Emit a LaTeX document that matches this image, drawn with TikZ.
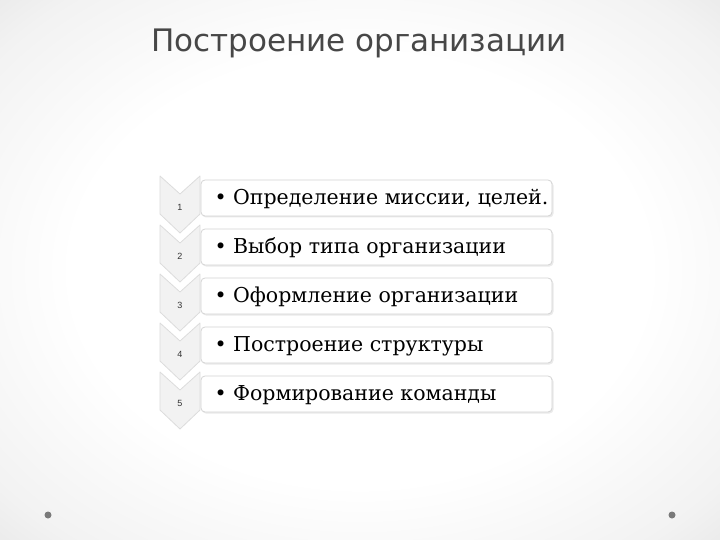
\documentclass[tikz,border=0pt]{standalone}
\usepackage{fontspec}
\setmainfont{DejaVu Serif}
\newfontfamily\titlefont{DejaVu Sans}
\newfontfamily\numfont{Liberation Sans}
\definecolor{chevfill}{HTML}{F2F2F2}
\definecolor{chevline}{HTML}{DCDCDC}
\definecolor{boxline}{HTML}{D4D4D4}
\definecolor{dotgray}{HTML}{7A7A7A}
\pgfdeclareradialshading{bgshade}{\pgfpoint{0bp}{0bp}}{%
  color(0bp)=(white); color(20bp)=(white); color(32bp)=(black!5); color(42bp)=(black!13); color(50bp)=(black!24)}
\tikzset{
  chev/.style={fill=chevfill, draw=chevline, line width=0.8pt, line join=round},
  stepboxstyle/.style={draw=boxline, fill=white, rounded corners=4pt, line width=0.8pt},
  boxshadow/.style={fill=black!8, rounded corners=4pt},
  itemtext/.style={anchor=west, font=\fontsize{20.5}{24}\selectfont, text=black},
  numtext/.style={font=\numfont\fontsize{9}{10}\selectfont, text=black!80},
  dotstyle/.style={fill=dotgray, draw=none}
}
\begin{document}
\begin{tikzpicture}[x=1pt,y=-1pt]
\useasboundingbox (0,0) rectangle (720,540);
\begin{scope}
\clip (0,0) rectangle (720,540);
\shade[shading=bgshade] (0,0) rectangle (720,540);
\end{scope}
\node[font=\titlefont\fontsize{31}{36}\selectfont, text=black!72] (title) at (359,43) {Построение организации};
% chevrons
\foreach \i in {5,4,3,2,1}{
  \pgfmathsetmacro{\yo}{176+49*(\i-1)}
  \draw[chev] (160,\yo) -- (180,\yo+18) -- (200,\yo) -- (200,\yo+38) -- (180,\yo+57) -- (160,\yo+38) -- cycle;
}
\foreach \i/\t in {1/{Определение миссии, целей.},2/{Выбор типа организации},3/{Оформление организации},4/{Построение структуры},5/{Формирование команды}}{
  \pgfmathsetmacro{\yt}{180+49*(\i-1)}
  \fill[boxshadow] (202,\yt+1.5) rectangle (553.5,\yt+37.5);
  \draw[stepboxstyle] (201,\yt) rectangle (552,\yt+36);
  \node[itemtext] (item\i) at (211,\yt+19) {\textbullet\ \t};
  \node[numtext] (num\i) at (180,\yt+27) {\i};
}
\fill[dotstyle] (48,515) circle (3.5);
\fill[dotstyle] (672,515) circle (3.5);
\end{tikzpicture}
\end{document}
